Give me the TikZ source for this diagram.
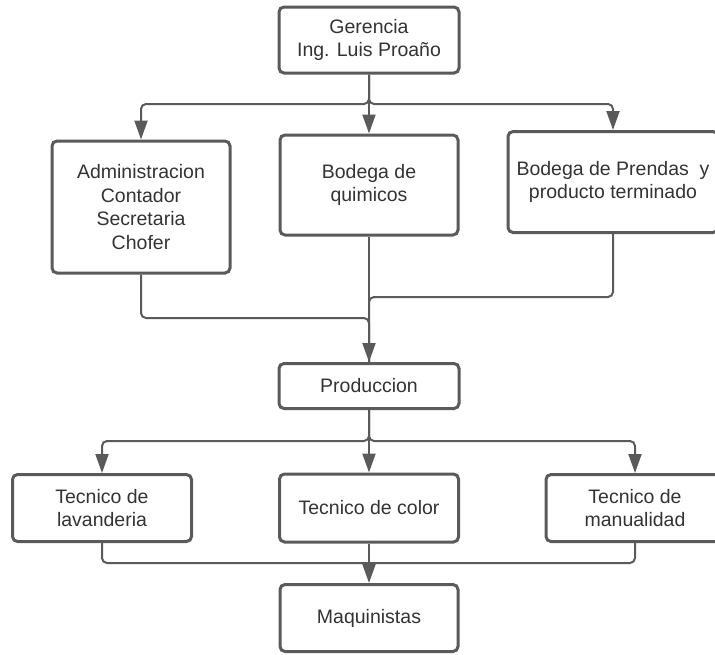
\documentclass[tikz,border=0pt]{standalone}
\usepackage{fontspec}
\setmainfont{Liberation Sans}
\usetikzlibrary{arrows.meta}
\definecolor{linegray}{HTML}{5A5A5A}
\definecolor{textgray}{HTML}{333333}
\begin{document}
\begin{tikzpicture}[x=1pt,y=-1pt,color=linegray,>={Triangle[length=19pt,width=13pt]},
  org node/.style={draw=linegray,line width=3pt,rounded corners=5pt,fill=white,align=center,text=textgray,inner sep=2pt,font=\fontsize{19.5}{23.5}\selectfont},
  link/.style={line width=2pt,rounded corners=5pt}]
\useasboundingbox (0,0) rectangle (715,654);
  \node[org node,minimum width=180pt,minimum height=66pt] (ger) at (369,40) {Gerencia\\Ing. Luis Proaño};
  \node[org node,minimum width=178pt,minimum height=132pt] (adm) at (141,207) {Administracion\\Contador\\Secretaria\\Chofer};
  \node[org node,minimum width=178pt,minimum height=100pt] (qui) at (369,185) {Bodega de\\quimicos};
  \node[org node,minimum width=210pt,minimum height=101pt] (pre) at (613,182) {Bodega de Prendas\ \ y\\producto terminado};
  \node[org node,minimum width=180pt,minimum height=45pt] (pro) at (369,386) {Produccion};
  \node[org node,minimum width=179pt,minimum height=67pt] (lav) at (102,508) {Tecnico de\\lavanderia};
  \node[org node,minimum width=179pt,minimum height=68pt] (col) at (369,508) {Tecnico de color};
  \node[org node,minimum width=178pt,minimum height=67pt] (man) at (635,508) {Tecnico de\\manualidad};
  \node[org node,minimum width=178pt,minimum height=67pt] (maq) at (369,618) {Maquinistas};

  \coordinate (top) at (369,104);
  \coordinate (midl) at (369,318);
  \coordinate (midr) at (369,297);
  \coordinate (low) at (369,441);
  \coordinate (bot) at (369,563);

\draw[link,->] (ger) -- (top) -| (adm);
\draw[link,->] (ger) -- (top) -| (pre);
\draw[link,->] (ger) -- (qui);
\draw[link] (adm) |- (midl) -- (pro);
\draw[link] (pre) |- (midr) -- (pro);
\draw[link,->] (qui) -- (pro);
\draw[link,->] (pro) -- (low) -| (lav);
\draw[link,->] (pro) -- (low) -| (man);
\draw[link,->] (pro) -- (col);
\draw[link] (lav) |- (bot);
\draw[link] (man) |- (bot);
\draw[link,->] (col) -- (maq);
\end{tikzpicture}
\end{document}
